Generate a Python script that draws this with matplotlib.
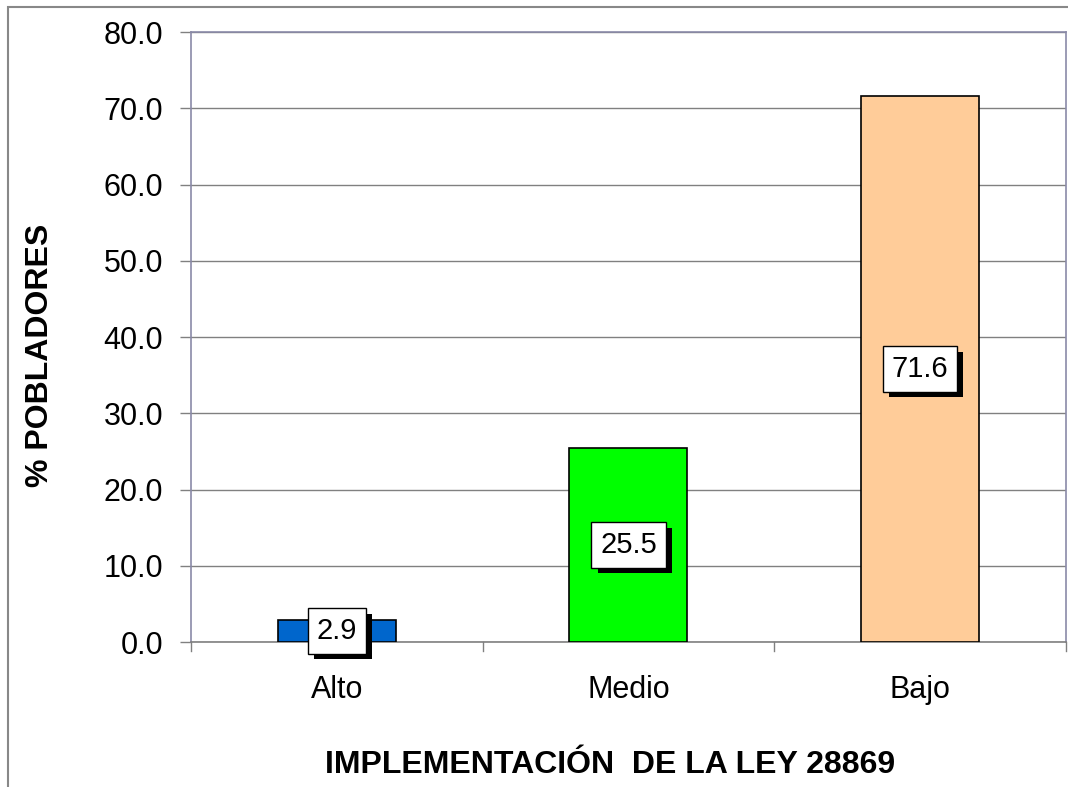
import matplotlib
matplotlib.use("Agg")
import matplotlib.pyplot as plt
import matplotlib.patheffects as pe
from matplotlib.patches import Rectangle

# DATA
categories = ["Alto", "Medio", "Bajo"]
values = [2.9, 25.5, 71.6]
bar_colors = ["#0066CC", "#00FF00", "#FFCC99"]
y_ticks = [0, 10, 20, 30, 40, 50, 60, 70, 80]

plt.rcParams['font.family'] = ['Liberation Sans', 'DejaVu Sans']

fig = plt.figure(figsize=(10.68, 7.87), dpi=100)
ax = fig.add_axes([0.1788, 0.1842, 0.998 - 0.1788, 0.9593 - 0.1842])

# outer chart frame (clipped by the image on right/bottom)
fig.patches.append(Rectangle((8 / 1068, -0.1), 1.2, 0.991 + 0.1,
                             transform=fig.transFigure, fill=False,
                             edgecolor="#888888", linewidth=1.5, zorder=0))

x = list(range(len(categories)))
ax.bar(x, values, width=0.405, color=bar_colors, edgecolor="black",
       linewidth=1.2, zorder=3)

ax.set_xlim(-0.5, len(categories) - 0.5)
ax.set_ylim(0, 80)
ax.set_yticks(y_ticks)
ax.set_yticklabels([f"{t:.1f}" for t in y_ticks], fontsize=22)
ax.set_xticks(x)
ax.set_xticklabels(categories, fontsize=22)
ax.tick_params(axis="x", length=0, pad=24)
ax.tick_params(axis="y", length=8, width=1, color="#808080", pad=12)

# category boundary ticks on x axis
for b in [-0.5, 0.5, 1.5, 2.5]:
    ax.plot([b, b], [0, -1.2], color="#808080", lw=1, clip_on=False, zorder=4)

ax.grid(axis="y", color="#808080", linewidth=1, zorder=0)
ax.set_axisbelow(True)
for side in ["top", "right", "left"]:
    ax.spines[side].set_color("#8a8aa8")
    ax.spines[side].set_linewidth(1.2)
ax.spines["bottom"].set_color("#808080")
ax.spines["bottom"].set_linewidth(1.2)

# value labels: white box with black drop shadow
for xi, v in zip(x, values):
    t = ax.text(xi, v / 2, f"{v:.1f}", ha="center", va="center", fontsize=21,
                color="black", zorder=6,
                bbox=dict(boxstyle="square,pad=0.3", facecolor="white",
                          edgecolor="black", linewidth=1))
    t.get_bbox_patch().set_path_effects([
        pe.SimplePatchShadow(offset=(4.5, -4), shadow_rgbFace="black", alpha=1.0),
        pe.Normal()])

fig.text(40 / 1068, 1 - 355 / 787, "% POBLADORES", rotation=90, ha="center",
         va="center", fontsize=23, fontweight="bold")
fig.text(610 / 1068, 1 - 765 / 787, "IMPLEMENTACIÓN  DE LA LEY 28869", ha="center",
         va="center", fontsize=23, fontweight="bold")

fig.savefig("out.png", dpi=100)
